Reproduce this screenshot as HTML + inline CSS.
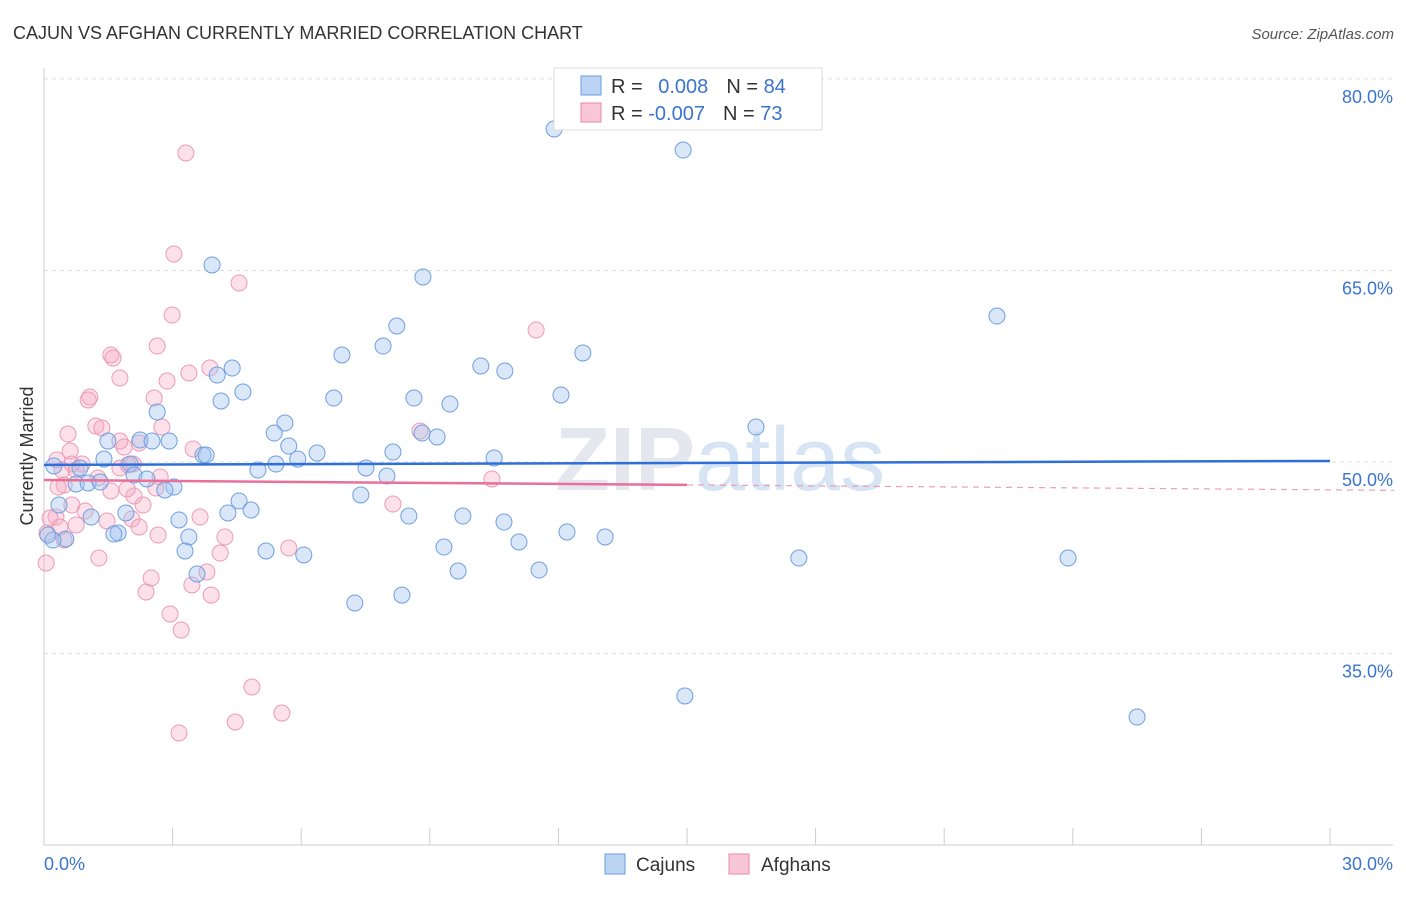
<!DOCTYPE html>
<html><head><meta charset="utf-8">
<style>
html,body{margin:0;padding:0;background:#fff;}
body{width:1406px;height:892px;overflow:hidden;font-family:"Liberation Sans",sans-serif;}
svg text{font-family:"Liberation Sans",sans-serif;}
</style></head>
<body>
<svg id="chart" width="1406" height="892" viewBox="0 0 1406 892" xmlns="http://www.w3.org/2000/svg">
<text x="13" y="39" font-size="18" fill="#333">CAJUN VS AFGHAN CURRENTLY MARRIED CORRELATION CHART</text>
<text x="1394" y="39" font-size="15" fill="#555" text-anchor="end" font-style="italic">Source: ZipAtlas.com</text>
<text x="555" y="490" font-size="90" fill="#e4e8ee" font-weight="bold">ZIP<tspan fill="#d7e4f4" font-weight="normal">atlas</tspan></text>
<g id="grid"></g>
<g id="axes"></g>
<g id="pts"></g>
<g id="trend"></g>
<text transform="translate(33,456) rotate(-90)" font-size="18" fill="#333" text-anchor="middle">Currently Married</text>
<g>
<rect x="554" y="68" width="268" height="62" fill="#fff" stroke="#ddd"/>
<rect x="581" y="76" width="20" height="19" fill="#bcd4f4" stroke="#6a9ee0"/>
<rect x="581" y="103" width="20" height="19" fill="#f8c6d6" stroke="#e88aab"/>
<text x="611" y="93" font-size="20" fill="#333">R = <tspan fill="#3a74d0" dx="10">0.008</tspan><tspan dx="18">N = </tspan><tspan fill="#3a74d0">84</tspan></text>
<text x="611" y="120" font-size="20" fill="#333">R = <tspan fill="#3a74d0">-0.007</tspan><tspan dx="18">N = </tspan><tspan fill="#3a74d0">73</tspan></text>
</g>
<g>
<rect x="605" y="854" width="20" height="20" fill="#bcd4f4" stroke="#6a9ee0"/>
<text x="636" y="871" font-size="19" fill="#333">Cajuns</text>
<rect x="729" y="854" width="20" height="20" fill="#f8c6d6" stroke="#e88aab"/>
<text x="761" y="871" font-size="19" fill="#333">Afghans</text>
</g>
</svg>
<script>
const yTicks=[35,50,65,80];
const yTickLabels=["35.0%","50.0%","65.0%","80.0%"];
const xLabels=["0.0%","30.0%"];
const cajunX=[11.90,14.91,3.92,8.84,22.23,8.23,6.95,7.91,12.57,10.19,10.75,4.39,4.04,4.64,6.76,4.13,8.63,9.47,12.06,2.64,5.62,5.37,8.82,9.17,16.61,2.24,2.92,2.52,1.49,5.71,3.71,3.78,6.37,8.14,5.92,1.40,10.50,2.01,5.41,4.99,7.51,0.23,0.84,8.00,2.10,2.40,0.75,1.03,1.31,3.03,2.82,7.39,4.55,0.35,4.83,4.29,1.91,1.10,8.51,9.77,3.15,10.73,12.20,13.09,11.08,1.73,1.63,3.38,0.51,0.21,9.33,3.29,5.18,6.06,17.61,23.89,9.66,11.55,3.57,7.25,8.35,14.95,25.50,0.09];
const cajunY=[76.08,74.43,65.43,64.49,61.43,60.65,58.38,59.08,58.54,57.52,57.13,57.36,56.81,55.48,55.01,54.78,55.01,54.54,55.25,53.92,53.05,52.27,52.27,51.96,52.74,51.72,51.64,51.64,51.64,51.25,50.55,50.55,50.70,50.78,50.23,50.23,50.31,49.84,49.84,49.37,49.53,49.69,49.53,48.90,48.98,48.67,48.28,48.36,48.43,48.04,47.81,47.42,46.95,46.63,46.24,46.01,46.01,45.69,45.77,45.77,45.46,45.30,44.52,44.13,43.74,44.44,44.36,44.13,43.97,43.89,43.34,43.03,43.03,42.72,42.48,42.48,41.46,41.54,41.23,38.96,39.58,31.68,30.03,44.28];
const afghanX=[3.31,3.03,4.55,2.99,11.48,2.64,1.56,1.61,1.77,3.87,3.38,2.87,1.07,1.03,2.57,1.21,0.56,2.75,8.77,3.48,2.22,1.77,1.87,1.35,0.30,0.61,0.65,0.89,2.08,1.77,1.96,2.71,1.26,0.47,0.33,1.56,2.61,2.10,1.94,10.45,2.31,8.14,0.65,0.96,1.47,2.05,0.28,0.75,3.64,2.66,2.22,4.22,5.71,4.11,1.28,2.50,3.45,3.80,2.38,3.90,2.94,3.20,4.85,5.55,4.46,3.15,0.05,0.07,0.42,0.75,0.14,0.37,0.47];
const afghanY=[74.20,66.29,64.02,61.51,60.34,59.08,58.38,58.14,56.58,57.36,56.97,56.34,55.09,54.86,55.01,52.82,52.19,52.74,52.43,51.02,51.49,51.64,51.17,52.66,50.16,50.86,49.84,49.84,49.84,49.53,49.77,48.83,48.75,48.20,48.04,47.73,47.96,47.34,47.89,48.67,46.63,46.71,46.63,46.16,45.38,45.54,45.69,45.07,45.69,44.28,44.91,44.13,43.27,42.87,42.48,40.92,40.37,41.39,39.82,39.58,38.10,36.84,32.38,30.34,29.64,28.78,42.09,44.44,49.37,49.37,45.61,44.91,43.89];
const cajunTrend=[49.77,50.08];
const afghanTrend=[48.59,47.82];

const NS="http://www.w3.org/2000/svg";
const X0=44,X1=1330,Y50=462,PXPER=12.77;
function sx(v){return X0+v*(X1-X0)/30;}
function sy(v){return Y50-(v-50)*PXPER;}
function mk(tag,attrs,parent){const e=document.createElementNS(NS,tag);for(const k in attrs)e.setAttribute(k,attrs[k]);parent.appendChild(e);return e;}
const grid=document.getElementById('grid'),axes=document.getElementById('axes'),pts=document.getElementById('pts'),trend=document.getElementById('trend');
yTicks.forEach((t,i)=>{
  const l=mk('line',{x1:X0,x2:1393,y1:sy(t),y2:sy(t),stroke:'#dde',"stroke-dasharray":'4,4'},grid);
  
  
  const tx=mk('text',{x:1393,y:sy(t)+24,"font-size":18,fill:'#3a74d0',"text-anchor":'end'},grid);
  tx.textContent=yTickLabels[i];
  
  
});
mk('line',{x1:X0,x2:X0,y1:68,y2:845,stroke:'#ccc'},axes);
mk('line',{x1:X0,x2:1393,y1:845,y2:845,stroke:'#ccc'},axes);
for(let i=0;i<=10;i++){const x=sx(i*3);const tk=mk('line',{x1:x,x2:x,y1:828,y2:845,stroke:'#ccc'},axes);
  
  }
const xl0=mk('text',{x:44,y:870,"font-size":18,fill:'#3a74d0'},axes);xl0.textContent=xLabels[0];


const xl1=mk('text',{x:1393,y:870,"font-size":18,fill:'#3a74d0',"text-anchor":'end'},axes);xl1.textContent=xLabels[1];


afghanX.forEach((v,i)=>{const c=mk('circle',{cx:sx(v),cy:sy(afghanY[i]),r:8,fill:'rgba(245,170,196,0.35)',stroke:'#ec9ab6',"stroke-width":1},pts);
  
  });
cajunX.forEach((v,i)=>{const c=mk('circle',{cx:sx(v),cy:sy(cajunY[i]),r:8,fill:'rgba(160,195,240,0.4)',stroke:'#6f9fe0',"stroke-width":1},pts);
  
  });
const bl=mk('line',{x1:sx(0),x2:sx(30),y1:sy(cajunTrend[0]),y2:sy(cajunTrend[1]),stroke:'#2f6fd8',"stroke-width":2.5},trend);


const pyAt=x=>afghanTrend[0]+(afghanTrend[1]-afghanTrend[0])*x/30;
const p1=mk('line',{x1:sx(0),x2:sx(15),y1:sy(pyAt(0)),y2:sy(pyAt(15)),stroke:'#e8709a',"stroke-width":2.5},trend);


const p2=mk('line',{x1:sx(15),x2:sx(31.5),y1:sy(pyAt(15)),y2:sy(pyAt(31.5)),stroke:'#e8a0b8',"stroke-width":1.2,"stroke-dasharray":'6,5'},trend);


</script>
</body></html>
